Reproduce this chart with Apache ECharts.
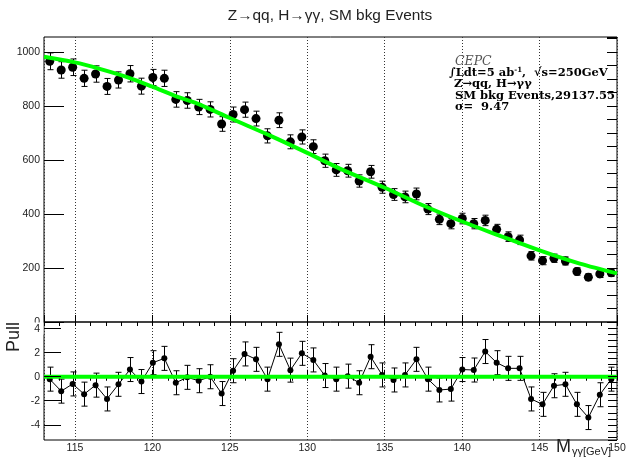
<!DOCTYPE html>
<html>
<head>
<meta charset="utf-8">
<script src="https://cdn.jsdelivr.net/npm/echarts@6/dist/echarts.min.js"></script>
<style>
  html, body { margin: 0; padding: 0; background: #fff; }
  #chart { width: 635px; height: 462px; }
</style>
</head>
<body>
<div id="chart"></div>
<script>
// Diphoton mass histogram: 50 bins of 0.74 GeV between 113 and 150 GeV
const massLow = 113;
const massHigh = 150;
const binWidth = 0.74;

// Events per bin
const counts = [965, 933, 943, 902, 918, 872, 896, 919, 873, 905,
                902, 824, 820, 796, 787, 733, 768, 786, 753, 689,
                747, 667, 685, 649, 597, 563, 560, 522, 556, 499,
                472, 463, 474, 418, 380, 364, 383, 364, 376, 343,
                316, 304, 245, 227, 236, 226, 187, 166, 178, 182];

// Pull of each bin with respect to the background fit
const pulls = [-0.2, -1.2, -0.6, -1.45, -0.7, -1.85, -0.63, 0.6, -0.4, 1.17,
               1.53, -0.5, -0.05, -0.33, 0, -1.4, 0.5, 1.9, 1.45, -0.2,
               2.7, 0.55, 1.95, 1.4, 0.1, -0.2, 0.05, -0.5, 1.67, 0.15,
               -0.27, 0.15, 1.45, -0.2, -1.1, -1.03, 0.6, 0.56, 2.1, 1.17,
               0.7, 0.7, -1.85, -2.3, -0.75, -0.63, -2.3, -3.4, -1.5, -0.2];

// Background fit curve
const fitMass   = [113, 115, 116.6, 118.5, 120, 121.5, 123.1, 125, 127.6, 130,
                   132.1, 135, 137.3, 140, 142.4, 145, 147.6, 150];
const fitCounts = [982, 961, 937, 904, 871, 836, 804, 755, 690, 626,
                   568, 497, 436, 372, 320, 265, 216, 180];

const binCenters = counts.map((_, i) => massLow + (i + 0.5) * binWidth);
// Poisson uncertainty on the counts, unit uncertainty on the pulls
const countPoints = counts.map((n, i) => [binCenters[i], n, Math.sqrt(n)]);
const pullPoints = pulls.map((p, i) => [binCenters[i], p, 1]);
const fitPoints = fitMass.map((m, i) => [m, fitCounts[i]]);

function errorBars(cap) {
  return function (params, api) {
    const x = api.value(0), y = api.value(1), e = api.value(2);
    const hi = api.coord([x, y + e]);
    const lo = api.coord([x, y - e]);
    const px = Math.round(hi[0]) + 0.5;
    const st = { stroke: '#000', lineWidth: 1 };
    return {
      type: 'group',
      children: [
        { type: 'line', shape: { x1: px, y1: hi[1], x2: px, y2: lo[1] }, style: st },
        { type: 'line', shape: { x1: px - cap, y1: hi[1], x2: px + cap, y2: hi[1] }, style: st },
        { type: 'line', shape: { x1: px - cap, y1: lo[1], x2: px + cap, y2: lo[1] }, style: st }
      ]
    };
  };
}

const plainNumber = v => String(Math.round(v * 100) / 100);
const labelFont = { fontFamily: 'Liberation Sans', fontSize: 10.5, color: '#222', formatter: plainNumber };
const dotted = { show: true, lineStyle: { color: '#333', width: 1, type: [1, 2] } };

function xAxisPair(gridIndex, withLabels) {
  return [
    { gridIndex, type: 'value', min: massLow, max: massHigh, splitNumber: 7,
      axisLine: { show: false },
      axisTick: { show: true, inside: true, length: 7, lineStyle: { color: '#000', width: 1 } },
      axisLabel: withLabels ? Object.assign({ show: true, margin: 3, showMinLabel: false }, labelFont) : { show: false },
      splitLine: dotted },
    { gridIndex, type: 'value', min: massLow, max: massHigh, splitNumber: 37,
      axisLine: { show: false },
      axisTick: { show: true, inside: true, length: 4, lineStyle: { color: '#000', width: 1 } },
      axisLabel: { show: false }, splitLine: { show: false } }
  ];
}

const option = {
  animation: false,
  backgroundColor: '#fff',
  grid: [
    { left: 44, top: 37, width: 573, height: 285, show: true, borderColor: '#000', borderWidth: 1,
      backgroundColor: 'transparent', containLabel: false, outerBoundsMode: 'none' },
    { left: 44, top: 322, width: 573, height: 118, show: true, borderColor: '#000', borderWidth: 1,
      backgroundColor: 'transparent', containLabel: false, outerBoundsMode: 'none' }
  ],
  xAxis: [].concat(xAxisPair(0, false), xAxisPair(1, true)),
  yAxis: [
    { gridIndex: 0, type: 'value', min: 0, max: 1055, interval: 200,
      axisLine: { show: false },
      axisTick: { show: true, inside: true, length: 20, lineStyle: { color: '#000', width: 1 } },
      axisLabel: Object.assign({ show: true, margin: 4, showMaxLabel: false, showMinLabel: true }, labelFont),
      splitLine: { show: false } },
    { gridIndex: 0, type: 'value', min: 0, max: 1055, interval: 50,
      axisLine: { show: false },
      axisTick: { show: true, inside: true, length: 10, lineStyle: { color: '#000', width: 1 } },
      axisLabel: { show: false }, splitLine: { show: false } },
    { gridIndex: 1, type: 'value', min: -5.27, max: 4.56, splitNumber: 5, z: 10,
      axisLine: { show: false },
      axisTick: { show: true, inside: true, length: 17, lineStyle: { color: '#000', width: 1 } },
      axisLabel: Object.assign({ show: true, margin: 4, showMinLabel: false, showMaxLabel: false }, labelFont),
      splitLine: { show: false } },
    { gridIndex: 1, type: 'value', min: -5.27, max: 4.56, splitNumber: 20, z: 10,
      axisLine: { show: false },
      axisTick: { show: true, inside: true, length: 9, lineStyle: { color: '#000', width: 1 } },
      axisLabel: { show: false }, splitLine: { show: false } }
  ],
  series: [
    { type: 'custom', xAxisIndex: 0, yAxisIndex: 0, data: countPoints, encode: { x: 0, y: 1 },
      renderItem: errorBars(3), z: 2, clip: true },
    { type: 'scatter', xAxisIndex: 0, yAxisIndex: 0, data: countPoints, encode: { x: 0, y: 1 },
      symbol: 'circle', symbolSize: 9, itemStyle: { color: '#000', opacity: 1 }, z: 3 },
    { type: 'line', xAxisIndex: 0, yAxisIndex: 0, data: fitPoints, smooth: 0.3,
      showSymbol: false, lineStyle: { color: '#00ff00', width: 4 }, z: 4 },

    { type: 'custom', xAxisIndex: 2, yAxisIndex: 2, data: pullPoints, encode: { x: 0, y: 1 },
      renderItem: errorBars(3), z: 2, clip: true },
    { type: 'line', xAxisIndex: 2, yAxisIndex: 2, data: pullPoints, encode: { x: 0, y: 1 },
      symbol: 'circle', symbolSize: 6, showSymbol: true,
      lineStyle: { color: '#000', width: 1 }, itemStyle: { color: '#000', opacity: 1 }, z: 3 },
    { type: 'line', xAxisIndex: 2, yAxisIndex: 2, data: [[massLow, 0], [massHigh, 0]],
      showSymbol: false, lineStyle: { color: '#00ff00', width: 4 }, z: 4 }
  ],
  graphic: [
    // mask the lower half of the upper panel's "0" label
    { type: 'rect', z: 5, shape: { x: 0, y: 322.5, width: 43.5, height: 12 }, style: { fill: '#fff' } },
    { type: 'text', z: 20, x: 330, y: 16, scaleX: 1.1,
      style: { text: 'Z→qq, H→γγ, SM bkg Events', font: '14px "Liberation Sans"', fill: '#222',
               align: 'center', verticalAlign: 'middle' } },
    { type: 'text', z: 20, x: 455, y: 62,
      style: { text: 'CEPC', font: 'italic 12.5px "DejaVu Serif"', fill: '#555', verticalAlign: 'middle' } },
    { type: 'text', z: 20, x: 449, y: 73.5,
      style: { text: '{b|∫Ldt=5 ab}{s|-1}{b|,  √s=250GeV}', verticalAlign: 'middle',
               rich: {
                 b: { font: 'bold 11.5px "DejaVu Serif"', fill: '#000', lineHeight: 13 },
                 s: { font: 'bold 7px "DejaVu Serif"', fill: '#000', lineHeight: 13, verticalAlign: 'top' }
               } } },
    { type: 'text', z: 20, x: 454, y: 84.5,
      style: { text: 'Z→qq, H→γγ', font: 'bold 11.5px "DejaVu Serif"', fill: '#000', verticalAlign: 'middle' } },
    { type: 'text', z: 20, x: 455, y: 96,
      style: { text: 'SM bkg Events,29137.55', font: 'bold 11.5px "DejaVu Serif"', fill: '#000', verticalAlign: 'middle' } },
    { type: 'text', z: 20, x: 455, y: 107.5,
      style: { text: 'σ=  9.47', font: 'bold 11.5px "DejaVu Serif"', fill: '#000', verticalAlign: 'middle' } },
    { type: 'text', z: 20, x: 14, y: 337, rotation: Math.PI / 2,
      style: { text: 'Pull', font: '18px "Liberation Sans"', fill: '#222', align: 'center', verticalAlign: 'middle' } },
    { type: 'text', z: 20, x: 556, y: 447,
      style: { text: 'M', font: '18px "Liberation Sans"', fill: '#222', verticalAlign: 'middle' } },
    { type: 'text', z: 20, x: 572, y: 452,
      style: { text: 'γγ[GeV]', font: '11px "Liberation Sans"', fill: '#222', verticalAlign: 'middle' } }
  ]
};

const chart = echarts.init(document.getElementById('chart'), null, { renderer: 'canvas' });
chart.setOption(option);
</script>
</body>
</html>
